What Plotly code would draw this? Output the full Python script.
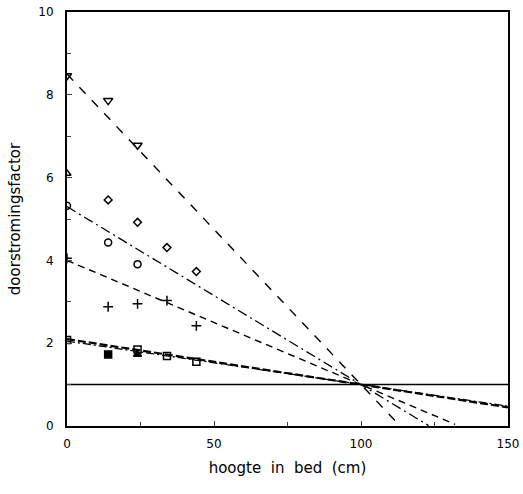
import plotly.graph_objects as go

# ---- data ----
# measured points (hoogte in bed, doorstromingsfactor)
tri_down_x = [0, 14, 24]
tri_down_y = [8.46, 7.86, 6.78]
tri_up_x = [0]
tri_up_y = [6.1]
diamond_x = [14, 24, 34, 44]
diamond_y = [5.46, 4.92, 4.31, 3.73]
circle_x = [0, 14, 24]
circle_y = [5.32, 4.43, 3.91]
plus_x = [0, 14, 24, 34, 44]
plus_y = [4.05, 2.88, 2.95, 3.03, 2.42]
open_sq_x = [0, 24, 34, 44]
open_sq_y = [2.08, 1.85, 1.69, 1.55]
filled_sq_x = [14]
filled_sq_y = [1.73]
filled_tri_x = [24]
filled_tri_y = [1.73]

# fitted lines: start and end points
fit_x0 = [0, 0, 0, 0, 0]
fit_y0 = [8.5, 5.3, 4.0, 2.1, 2.05]
fit_x1 = [112, 123, 132, 150, 150]
fit_y1 = [0.1, 0.01, 0.04, 0.45, 0.48]
fit_dash = ["9px,9px", "10px,4px,2px,4px", "7px,5px", "8px,3px", "8px,3px,2px,3px"]
fit_width = [1.4, 1.3, 1.4, 2.2, 1.3]

ref_x = [0, 150]
ref_y = [1, 1]

fig = go.Figure()

for i in range(len(fit_y0)):
    fig.add_trace(go.Scatter(x=[fit_x0[i], fit_x1[i]], y=[fit_y0[i], fit_y1[i]], mode="lines",
                             line=dict(color="black", width=fit_width[i], dash=fit_dash[i]),
                             showlegend=False, hoverinfo="skip"))

fig.add_trace(go.Scatter(x=ref_x, y=ref_y, mode="lines", line=dict(color="black", width=1.5),
                         showlegend=False))

def pts(x, y, symbol, size, lw=1.5):
    fig.add_trace(go.Scatter(x=x, y=y, mode="markers",
                             marker=dict(symbol=symbol, size=size, color="black",
                                         line=dict(color="black", width=lw)),
                             showlegend=False))

pts(tri_down_x, tri_down_y, "triangle-down-open", 8)
pts(tri_up_x, tri_up_y, "triangle-up-open", 7)
pts(diamond_x, diamond_y, "diamond-open", 6)
pts(circle_x, circle_y, "circle-open", 7)
pts(plus_x, plus_y, "cross-thin-open", 7, 1.5)
pts(open_sq_x, open_sq_y, "square-open", 7)
pts(filled_sq_x, filled_sq_y, "square", 7)
pts(filled_tri_x, filled_tri_y, "triangle-up", 7)

font = "DejaVu Sans"
fig.update_layout(
    width=523, height=494,
    margin=dict(l=67, r=15, t=12, b=68),
    paper_bgcolor="white", plot_bgcolor="white",
    font=dict(family=font, color="black", size=12),
    xaxis=dict(range=[0, 150], tickvals=[0, 50, 100, 150], ticks="inside", ticklen=5,
               showline=True, linecolor="black", linewidth=2, mirror=True, showgrid=False,
               zeroline=False, minor=dict(dtick=25, ticks="inside", ticklen=4),
               automargin=False, ticklabelstandoff=6,
               title=dict(text="hoogte  in  bed  (cm)", font=dict(size=15), standoff=12)),
    yaxis=dict(range=[0, 10], tickvals=[0, 2, 4, 6, 8, 10], ticks="inside", ticklen=5,
               showline=True, linecolor="black", linewidth=2, mirror=True, showgrid=False,
               zeroline=False, minor=dict(dtick=1, ticks="inside", ticklen=4),
               automargin=False, ticklabelstandoff=9,
               title=dict(text="doorstromingsfactor", font=dict(size=15), standoff=14)),
)

fig.write_html("out.html")
